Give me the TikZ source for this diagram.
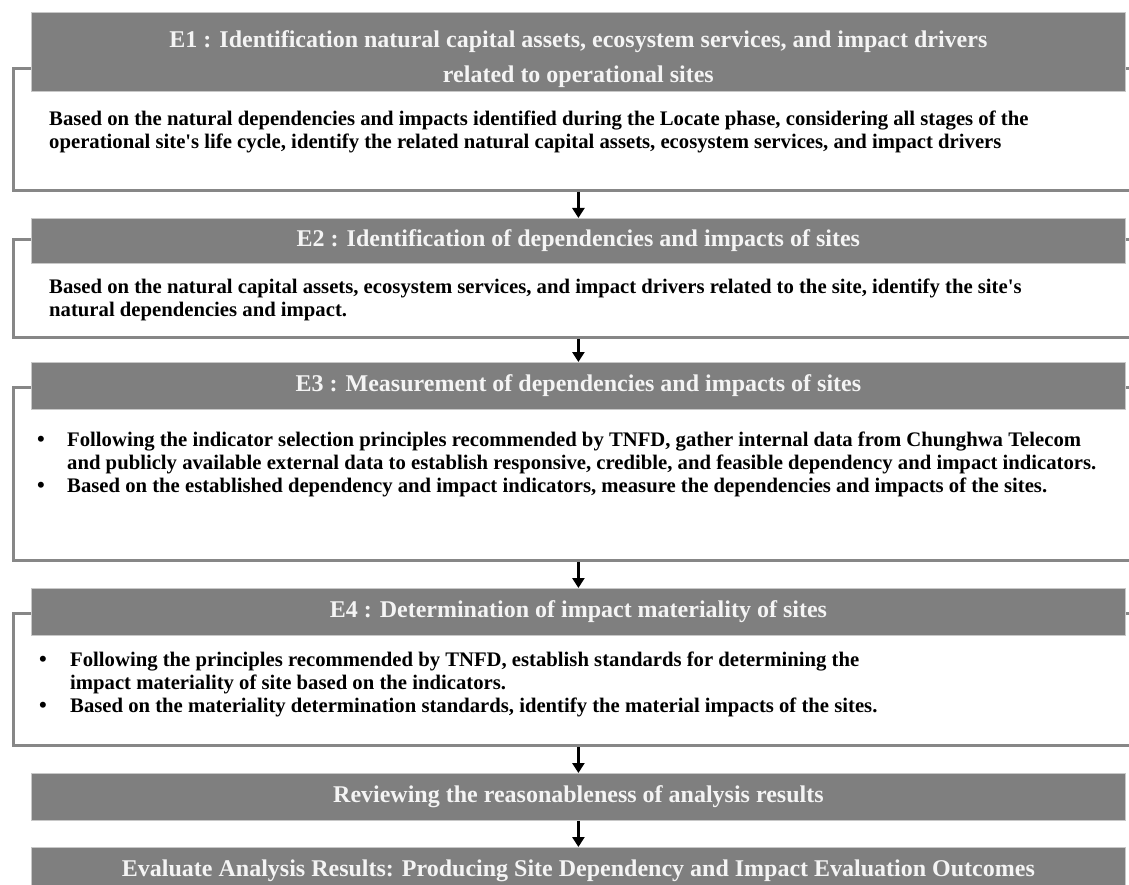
\documentclass[tikz,border=0pt]{standalone}
\usepackage{fontspec}
\setmainfont{Liberation Serif}
\usetikzlibrary{arrows.meta}
\definecolor{hdrfill}{HTML}{7F7F7F}
\definecolor{hdrline}{HTML}{C8C8C8}
\definecolor{frm}{HTML}{878787}
\definecolor{htxt}{HTML}{F4F4F4}
\begin{document}
\begin{tikzpicture}[x=1pt,y=-1pt,
  hdrbox/.style={fill=hdrfill, draw=hdrline, line width=0.8pt, anchor=north west,
    minimum width=1094pt, inner sep=0pt},
  frame/.style={draw=frm, line width=3pt, anchor=north west, minimum width=1140pt, inner sep=0pt},
  htitle/.style={text=htxt, font=\fontsize{24}{35}\selectfont\bfseries, align=center, inner sep=0pt},
  body/.style={font=\fontsize{20.7}{23}\selectfont\bfseries, align=left, anchor=west, inner sep=0pt},
  bul/.style={font=\fontsize{22}{23}\selectfont\bfseries, anchor=west, inner sep=0pt},
  arr/.style={draw=black, line width=3pt, -{Triangle[width=12pt,length=10pt]}}
]
\useasboundingbox (0,0) rectangle (1129,885);

% frames
\node[frame, minimum height=122pt] (e1box) at (12,67) {};
\node[frame, minimum height=98pt] (e2box) at (12,238) {};
\node[frame, minimum height=173pt] (e3box) at (12,386) {};
\node[frame, minimum height=132pt] (e4box) at (12,612) {};

% headers
\node[hdrbox, minimum height=79pt] (e1h) at (31,12) {};
\node[hdrbox, minimum height=45pt] (e2h) at (31,218) {};
\node[hdrbox, minimum height=47pt] (e3h) at (31,362) {};
\node[hdrbox, minimum height=47pt] (e4h) at (31,588) {};
\node[hdrbox, minimum height=47pt] (rvh) at (31,773) {};
\node[hdrbox, minimum height=47pt] (evh) at (31,847) {};

% titles
\node[htitle] (e1t) at ([yshift=-7pt]e1h.center) {E1 : Identification natural capital assets, ecosystem services, and impact drivers\\related to operational sites};
\node[htitle] (e2t) at (e2h.center) {E2 : Identification of dependencies and impacts of sites};
\node[htitle] (e3t) at (e3h.center) {E3 : Measurement of dependencies and impacts of sites};
\node[htitle] (e4t) at (e4h.center) {E4 : Determination of impact materiality of sites};
\node[htitle] (rvt) at (rvh.center) {Reviewing the reasonableness of analysis results};
\node[htitle] (evt) at (evh.center) {Evaluate Analysis Results: Producing Site Dependency and Impact Evaluation Outcomes};

% bodies
\node[body] (e1b) at (49,132) {Based on the natural dependencies and impacts identified during the Locate phase, considering all stages of the\\operational site\textquotesingle s life cycle, identify the related natural capital assets, ecosystem services, and impact drivers};
\node[body] (e2b) at (49,300) {Based on the natural capital assets, ecosystem services, and impact drivers related to the site, identify the site\textquotesingle s\\natural dependencies and impact.};
\node[body] (e3b) at (67,464) {Following the indicator selection principles recommended by TNFD, gather internal data from Chunghwa Telecom\\and publicly available external data to establish responsive, credible, and feasible dependency and impact indicators.\\Based on the established dependency and impact indicators, measure the dependencies and impacts of the sites.};
\node[bul] (e3b1) at (37,441) {•};
\node[bul] (e3b2) at (37,487) {•};
\node[body] (e4b) at (70,684) {Following the principles recommended by TNFD, establish standards for determining the\\impact materiality of site based on the indicators.\\Based on the materiality determination standards, identify the material impacts of the sites.};
\node[bul] (e4b1) at (39,661) {•};
\node[bul] (e4b2) at (39,707) {•};

% arrows
\draw[arr] (e1box.south -| e2h.north) -- (e2h.north);
\draw[arr] (e2box.south -| e3h.north) -- (e3h.north);
\draw[arr] (e3box.south -| e4h.north) -- (e4h.north);
\draw[arr] (e4box.south -| rvh.north) -- (rvh.north);
\draw[arr] (rvh.south) -- (evh.north);
\end{tikzpicture}
\end{document}
